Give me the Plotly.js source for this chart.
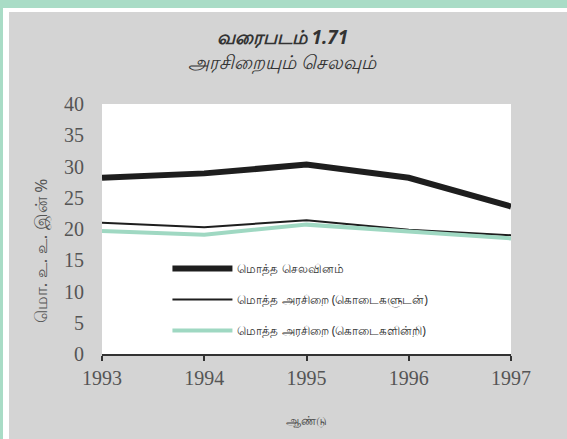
<!DOCTYPE html>
<html>
<head>
<meta charset="utf-8">
<script src="https://cdn.plot.ly/plotly-3.0.1.min.js"></script>
<style>
html,body{margin:0;padding:0;width:567px;height:439px;overflow:hidden;background:#a9dcc6;}
#frame{position:absolute;left:3px;top:8px;width:564px;height:431px;background:#ffffff;}
#chart{position:absolute;left:9px;top:12px;width:558px;height:427px;}
</style>
</head>
<body>
<div id="frame"></div>
<div id="chart"></div>
<script>
const years = [1993, 1994, 1995, 1996, 1997];
const totalExpenditure = [28.2, 28.9, 30.3, 28.2, 23.6];
const revenueWithGrants = [21.0, 20.3, 21.4, 19.9, 19.0];
const revenueWithoutGrants = [19.7, 19.1, 20.7, 19.6, 18.5];
const seriesNames = ['மொத்த செலவினம்', 'மொத்த அரசிறை (கொடைகளுடன்)', 'மொத்த அரசிறை (கொடைகளின்றி)'];
const tickYears = ['1993', '1994', '1995', '1996', '1997'];
const yTitle = 'மொ. உ. உ. இன் %';

const traces = [
  {x: years, y: totalExpenditure, name: seriesNames[0], mode: 'lines', legendgroup: 'a',
   line: {color: '#1e1e1e', width: 6}},
  {x: years, y: revenueWithGrants, name: seriesNames[1], mode: 'lines', legendgroup: 'b',
   line: {color: '#1e1e1e', width: 2}},
  {x: years, y: revenueWithoutGrants, name: seriesNames[2], mode: 'lines', legendgroup: 'c',
   line: {color: '#9fd8c2', width: 4}}
];

const layout = {
  width: 558, height: 427,
  margin: {l: 93, r: 56, t: 92, b: 85},
  paper_bgcolor: '#d4d4d4',
  plot_bgcolor: '#ffffff',
  font: {family: 'Liberation Serif, serif', color: '#555555'},
  title: {
    text: '<b><i>வரைபடம் 1.71</i></b><br><i>அரசிறையும் செலவும்</i>',
    font: {family: 'Noto Sans, sans-serif', size: 19, color: '#333333'},
    x: 0.49, xanchor: 'center', y: 0.925, yanchor: 'top'
  },
  xaxis: {
    range: [1993, 1997],
    tickvals: years, ticktext: tickYears,
    showgrid: false, zeroline: false,
    showline: true, linecolor: '#333333', linewidth: 2,
    ticks: 'outside', ticklen: 5, tickwidth: 2, tickcolor: '#333333',
    tickfont: {family: 'Liberation Serif, serif', size: 20, color: '#555555'},
    title: {text: 'ஆண்டு', font: {family: 'Noto Sans, sans-serif', size: 12, color: '#444444'}, standoff: 29}
  },
  yaxis: {
    range: [0, 40],
    tickvals: [0, 5, 10, 15, 20, 25, 30, 35, 40],
    showgrid: false, zeroline: false, showline: false,
    ticks: 'outside', ticklen: 13, tickcolor: 'rgba(0,0,0,0)',
    tickfont: {family: 'Liberation Serif, serif', size: 20, color: '#555555'}
  },
  annotations: [{
    text: yTitle, textangle: -90, showarrow: false,
    xref: 'paper', yref: 'paper', x: -0.15, y: 0.41, xanchor: 'center', yanchor: 'middle',
    font: {family: 'Noto Sans, sans-serif', size: 17, color: '#555555'}
  }],
  showlegend: true,
  legend: {
    x: 0.16, y: 0.40, xanchor: 'left', yanchor: 'top',
    bgcolor: 'rgba(0,0,0,0)',
    traceorder: 'grouped', tracegroupgap: 12,
    itemwidth: 60,
    font: {family: 'Noto Sans, sans-serif', size: 12, color: '#333333'}
  }
};

Plotly.newPlot('chart', traces, layout, {displayModeBar: false, staticPlot: true});
</script>
</body>
</html>
